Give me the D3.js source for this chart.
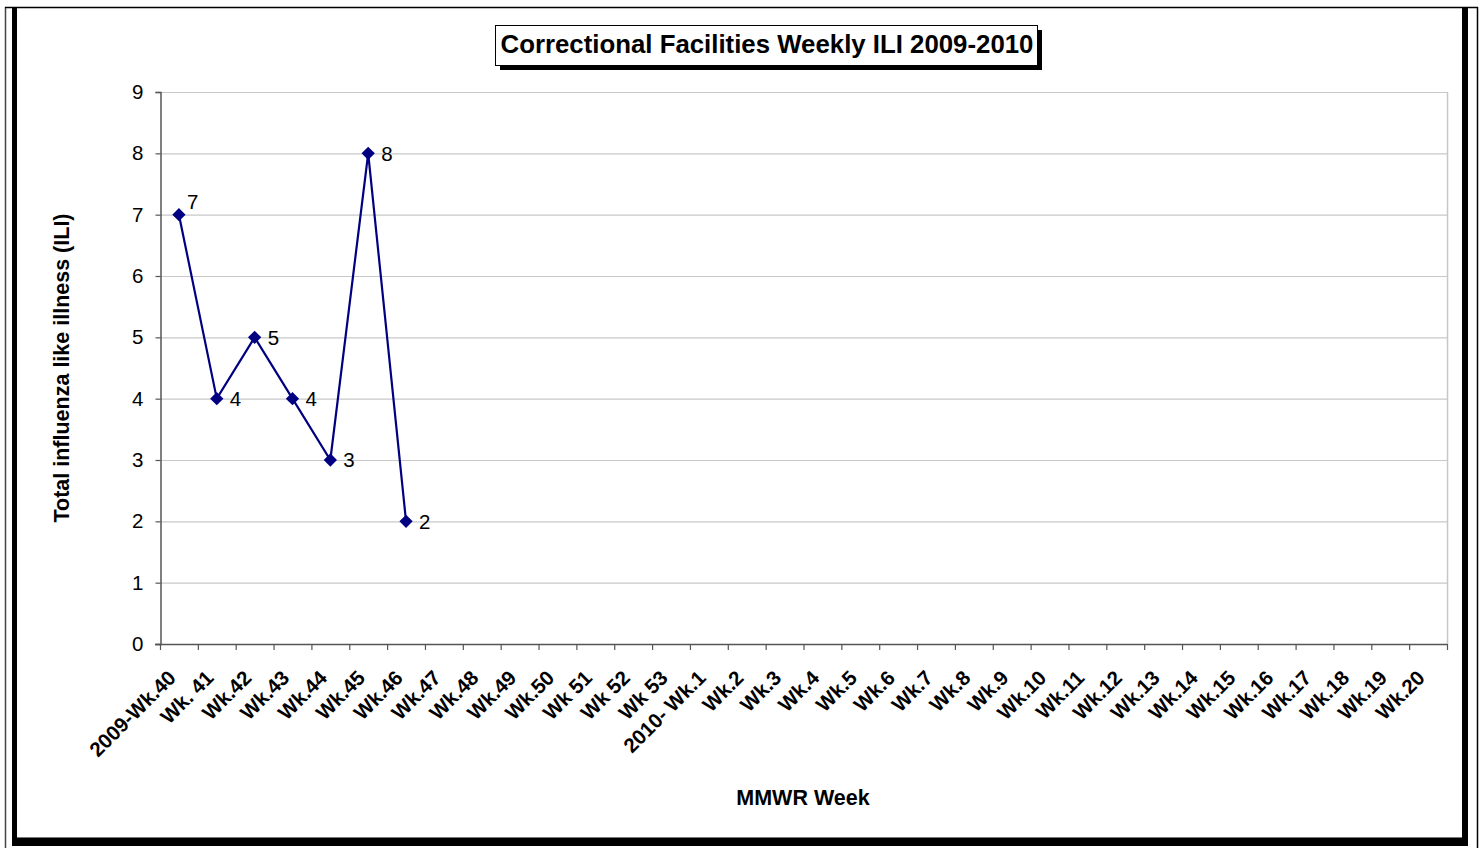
<!DOCTYPE html>
<html><head><meta charset="utf-8">
<script src="https://cdn.jsdelivr.net/npm/d3@7"></script>
<style>
html,body{margin:0;padding:0;background:#fff;}
svg{display:block;font-family:"Liberation Sans",Arial,sans-serif;}
</style></head>
<body>
<svg id="chart" width="1481" height="848"></svg>
<script>
const weeks = ["2009-Wk.40","Wk. 41","Wk.42","Wk.43","Wk.44","Wk.45","Wk.46","Wk.47","Wk.48","Wk.49","Wk.50","Wk 51","Wk 52","Wk 53","2010- Wk.1","Wk.2","Wk.3","Wk.4","Wk.5","Wk.6","Wk.7","Wk.8","Wk.9","Wk.10","Wk.11","Wk.12","Wk.13","Wk.14","Wk.15","Wk.16","Wk.17","Wk.18","Wk.19","Wk.20"];
const iliCounts = [7,4,5,4,3,8,2];
const yTicks = [0,1,2,3,4,5,6,7,8,9];
const chartTitle = "Correctional Facilities Weekly ILI 2009-2010";
const xTitle = "MMWR Week";
const yTitle = "Total influenza like illness (ILI)";

const svg = d3.select("#chart");

// outer frame
svg.append("line").attr("x1",5.5).attr("x2",5.5).attr("y1",7).attr("y2",848).attr("stroke","#444").attr("stroke-width",1.5);
svg.append("line").attr("x1",5).attr("x2",1478).attr("y1",7.5).attr("y2",7.5).attr("stroke","#000").attr("stroke-width",1.5);
svg.append("line").attr("x1",1477.5).attr("x2",1477.5).attr("y1",7).attr("y2",848).attr("stroke","#000").attr("stroke-width",1.5);
// chart area thick border
svg.append("rect").attr("x",12).attr("y",8).attr("width",5).attr("height",838).attr("fill","#000");
svg.append("rect").attr("x",1462).attr("y",8).attr("width",6).attr("height",838).attr("fill","#000");
svg.append("rect").attr("x",12).attr("y",838).attr("width",1456).attr("height",8).attr("fill","#000");
svg.append("line").attr("x1",17).attr("x2",1462).attr("y1",837.5).attr("y2",837.5).attr("stroke","#777").attr("stroke-width",1);

// plot area
const L = 160, R = 1447, T = 92, B = 644;
const x = d3.scaleBand().domain(weeks).range([L,R]).padding(0);
const y = d3.scaleLinear().domain([0,9]).range([B,T]);

// gridlines
svg.append("g").selectAll("line").data(yTicks.filter(d=>d>0)).join("line")
  .attr("x1",L).attr("x2",R).attr("y1",d=>y(d)+0.5).attr("y2",d=>y(d)+0.5)
  .attr("stroke","#c8c8c8").attr("stroke-width",1.2);
svg.append("line").attr("x1",R+0.5).attr("x2",R+0.5).attr("y1",T).attr("y2",B)
  .attr("stroke","#c8c8c8").attr("stroke-width",1.5);

// y axis
const yAxis = svg.append("g").attr("transform",`translate(${L+0.5},0)`)
  .call(d3.axisLeft(y).tickValues(yTicks).tickSize(5).tickPadding(12).tickFormat(d3.format("d")));
yAxis.select(".domain").attr("stroke","#555").attr("stroke-width",1.5);
yAxis.selectAll(".tick line").attr("stroke","#555").attr("stroke-width",1.2);
yAxis.selectAll(".tick text").attr("font-size","20.5px").attr("fill","#000").attr("font-family","Liberation Sans, Arial, sans-serif");

// x axis
const boundaries = d3.range(weeks.length+1).map(i=>L + i*x.bandwidth());
const xg = svg.append("g");
xg.append("line").attr("x1",L-5).attr("x2",R).attr("y1",B+0.5).attr("y2",B+0.5).attr("stroke","#555").attr("stroke-width",1.5);
xg.selectAll("line.tk").data(boundaries).join("line").attr("class","tk")
  .attr("x1",d=>d+0.5).attr("x2",d=>d+0.5).attr("y1",B).attr("y2",B+6)
  .attr("stroke","#555").attr("stroke-width",1.2);
xg.selectAll("text").data(weeks).join("text")
  .attr("transform",d=>`translate(${x(d)+x.bandwidth()/2-7},${B+30}) rotate(-45)`)
  .attr("text-anchor","end").attr("dy","0.35em")
  .attr("font-size","20.5px").attr("font-weight","bold").attr("fill","#000")
  .text(d=>d);

// series
const pts = iliCounts.map((v,i)=>({w:weeks[i], v, i}));
const cx = d => x(d.w) + x.bandwidth()/2;
svg.append("path").datum(pts)
  .attr("d", d3.line().x(cx).y(d=>y(d.v)))
  .attr("fill","none").attr("stroke","#000080").attr("stroke-width",2.2);
svg.append("g").selectAll("path").data(pts).join("path")
  .attr("d", d3.symbol(d3.symbolSquare, 88)())
  .attr("transform", d=>`translate(${cx(d)},${y(d.v)}) rotate(45)`)
  .attr("fill","#000080");
svg.append("g").selectAll("text").data(pts).join("text")
  .attr("x", d=>cx(d) + (d.i===0 ? 8 : 13))
  .attr("y", d=>y(d.v) + (d.i===0 ? -13 : 0))
  .attr("dy","0.35em")
  .attr("font-size","20.5px").attr("fill","#000")
  .text(d=>d.v);

// axis titles
svg.append("text").attr("x",803).attr("y",805).attr("text-anchor","middle")
  .attr("font-size","21.5px").attr("font-weight","bold").text(xTitle);
svg.append("text").attr("transform","translate(69,368) rotate(-90)").attr("text-anchor","middle")
  .attr("font-size","21.5px").attr("font-weight","bold").text(yTitle);

// title box with shadow
const tb = {x:495, y:25, w:542, h:40};
svg.append("rect").attr("x",tb.x+5).attr("y",tb.y+5).attr("width",tb.w).attr("height",tb.h).attr("fill","#000");
svg.append("rect").attr("x",tb.x+0.5).attr("y",tb.y+0.5).attr("width",tb.w).attr("height",tb.h).attr("fill","#fff").attr("stroke","#000").attr("stroke-width",1);
svg.append("text").attr("x",tb.x+tb.w/2+1).attr("y",53).attr("text-anchor","middle")
  .attr("font-size","25.8px").attr("font-weight","bold").text(chartTitle);
</script>
</body></html>
